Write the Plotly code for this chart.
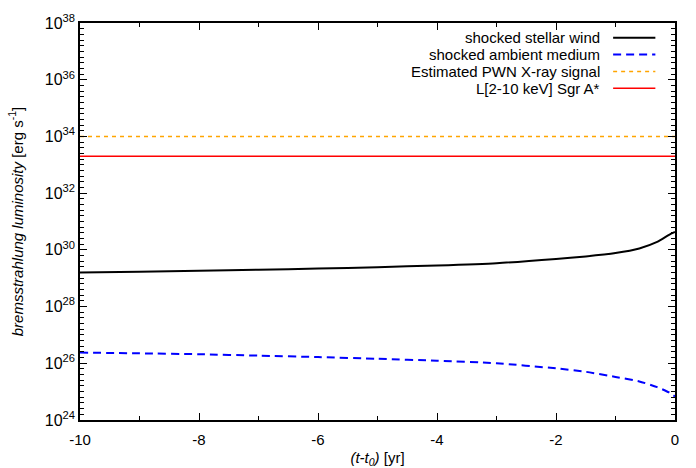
import plotly.graph_objects as go

# ---- data ----
t_wind = [-10, -9, -8, -7, -6, -5, -4, -3, -2, -1.5, -1, -0.6, -0.3, -0.1, 0]
logL_wind = [29.20, 29.23, 29.26, 29.30, 29.34, 29.39, 29.45, 29.53, 29.68, 29.77, 29.89, 30.05, 30.28, 30.53, 30.63]

t_amb = [-10, -9, -8, -7, -6, -5, -4, -3, -2, -1.5, -1, -0.6, -0.3, -0.1, 0]
logL_amb = [26.38, 26.35, 26.32, 26.27, 26.22, 26.16, 26.09, 26.00, 25.82, 25.70, 25.52, 25.36, 25.16, 24.97, 24.83]

t_range = [-10, 0]
pwn_level = 1e34
sgra_level = 2e33

names = ["shocked stellar wind", "shocked ambient medium",
         "Estimated PWN X-ray signal", "L[2-10 keV] Sgr A*"]
colors = ["#000000", "#0000FF", "#FFA500", "#FF0000"]
dashes = ["solid", "8px,5px", "4px,4px", "solid"]
widths = [2, 2, 1.5, 1.5]

y_exponents = [24, 26, 28, 30, 32, 34, 36, 38]
x_ticks = [-10, -8, -6, -4, -2, 0]

series = [
    (t_wind, [10.0 ** v for v in logL_wind]),
    (t_amb, [10.0 ** v for v in logL_amb]),
    (t_range, [pwn_level, pwn_level]),
    (t_range, [sgra_level, sgra_level]),
]

fig = go.Figure()
for (xs, ys), n, c, d, w in zip(series, names, colors, dashes, widths):
    fig.add_trace(go.Scatter(x=xs, y=ys, mode="lines", name=n,
                             line=dict(color=c, dash=d, width=w, shape="spline", smoothing=0.6),
                             showlegend=False))

# custom legend (text right, sample line on the right, gnuplot style)
row_y = [0.963, 0.9205, 0.878, 0.8355]
for n, c, d, w, yy in zip(names, colors, dashes, widths, row_y):
    fig.add_annotation(xref="paper", yref="paper", x=0.877, y=yy, text=n,
                       showarrow=False, xanchor="right", yanchor="middle",
                       font=dict(size=15, color="#000000"))
    fig.add_shape(type="line", xref="paper", yref="paper", x0=0.896, x1=0.967,
                  y0=yy, y1=yy, line=dict(color=c, dash=d, width=w))

font_family = "Liberation Sans, Arial, Helvetica, sans-serif"
fig.update_layout(
    width=696, height=468,
    margin=dict(l=79.5, r=21, t=22.7, b=47.5),
    paper_bgcolor="white", plot_bgcolor="white",
    font=dict(family=font_family, size=15, color="#000000"),
)
fig.update_xaxes(
    range=[-10, 0], tickvals=x_ticks, ticktext=[str(v) for v in x_ticks],
    ticks="inside", ticklen=7, tickwidth=1, tickcolor="#000000",
    minor=dict(dtick=1, ticks="inside", ticklen=4, tickcolor="#000000", showgrid=False),
    showline=True, linecolor="#000000", linewidth=1.5, mirror="allticks",
    showgrid=False, zeroline=False, automargin=False, ticklabelstandoff=5,
    title=dict(text="<i>(t-t<sub>0</sub>)</i> [yr]", font=dict(size=15), standoff=9),
    tickfont=dict(size=15),
)
fig.update_yaxes(
    type="log", range=[24, 38],
    tickvals=[10.0 ** e for e in y_exponents],
    ticktext=["10<sup>%d</sup>" % e for e in y_exponents],
    ticks="inside", ticklen=7, tickwidth=1, tickcolor="#000000",
    minor=dict(tick0=0, dtick=0.2, ticks="inside", ticklen=4, tickcolor="#000000", showgrid=False),
    showline=True, linecolor="#000000", linewidth=1.5, mirror="allticks",
    showgrid=False, zeroline=False, automargin=False,
    title=dict(text="<i>bremsstrahlung luminosity</i> [erg s<sup>-1</sup>]", font=dict(size=15), standoff=18),
    tickfont=dict(size=16),
)

fig.write_html("out.html")
